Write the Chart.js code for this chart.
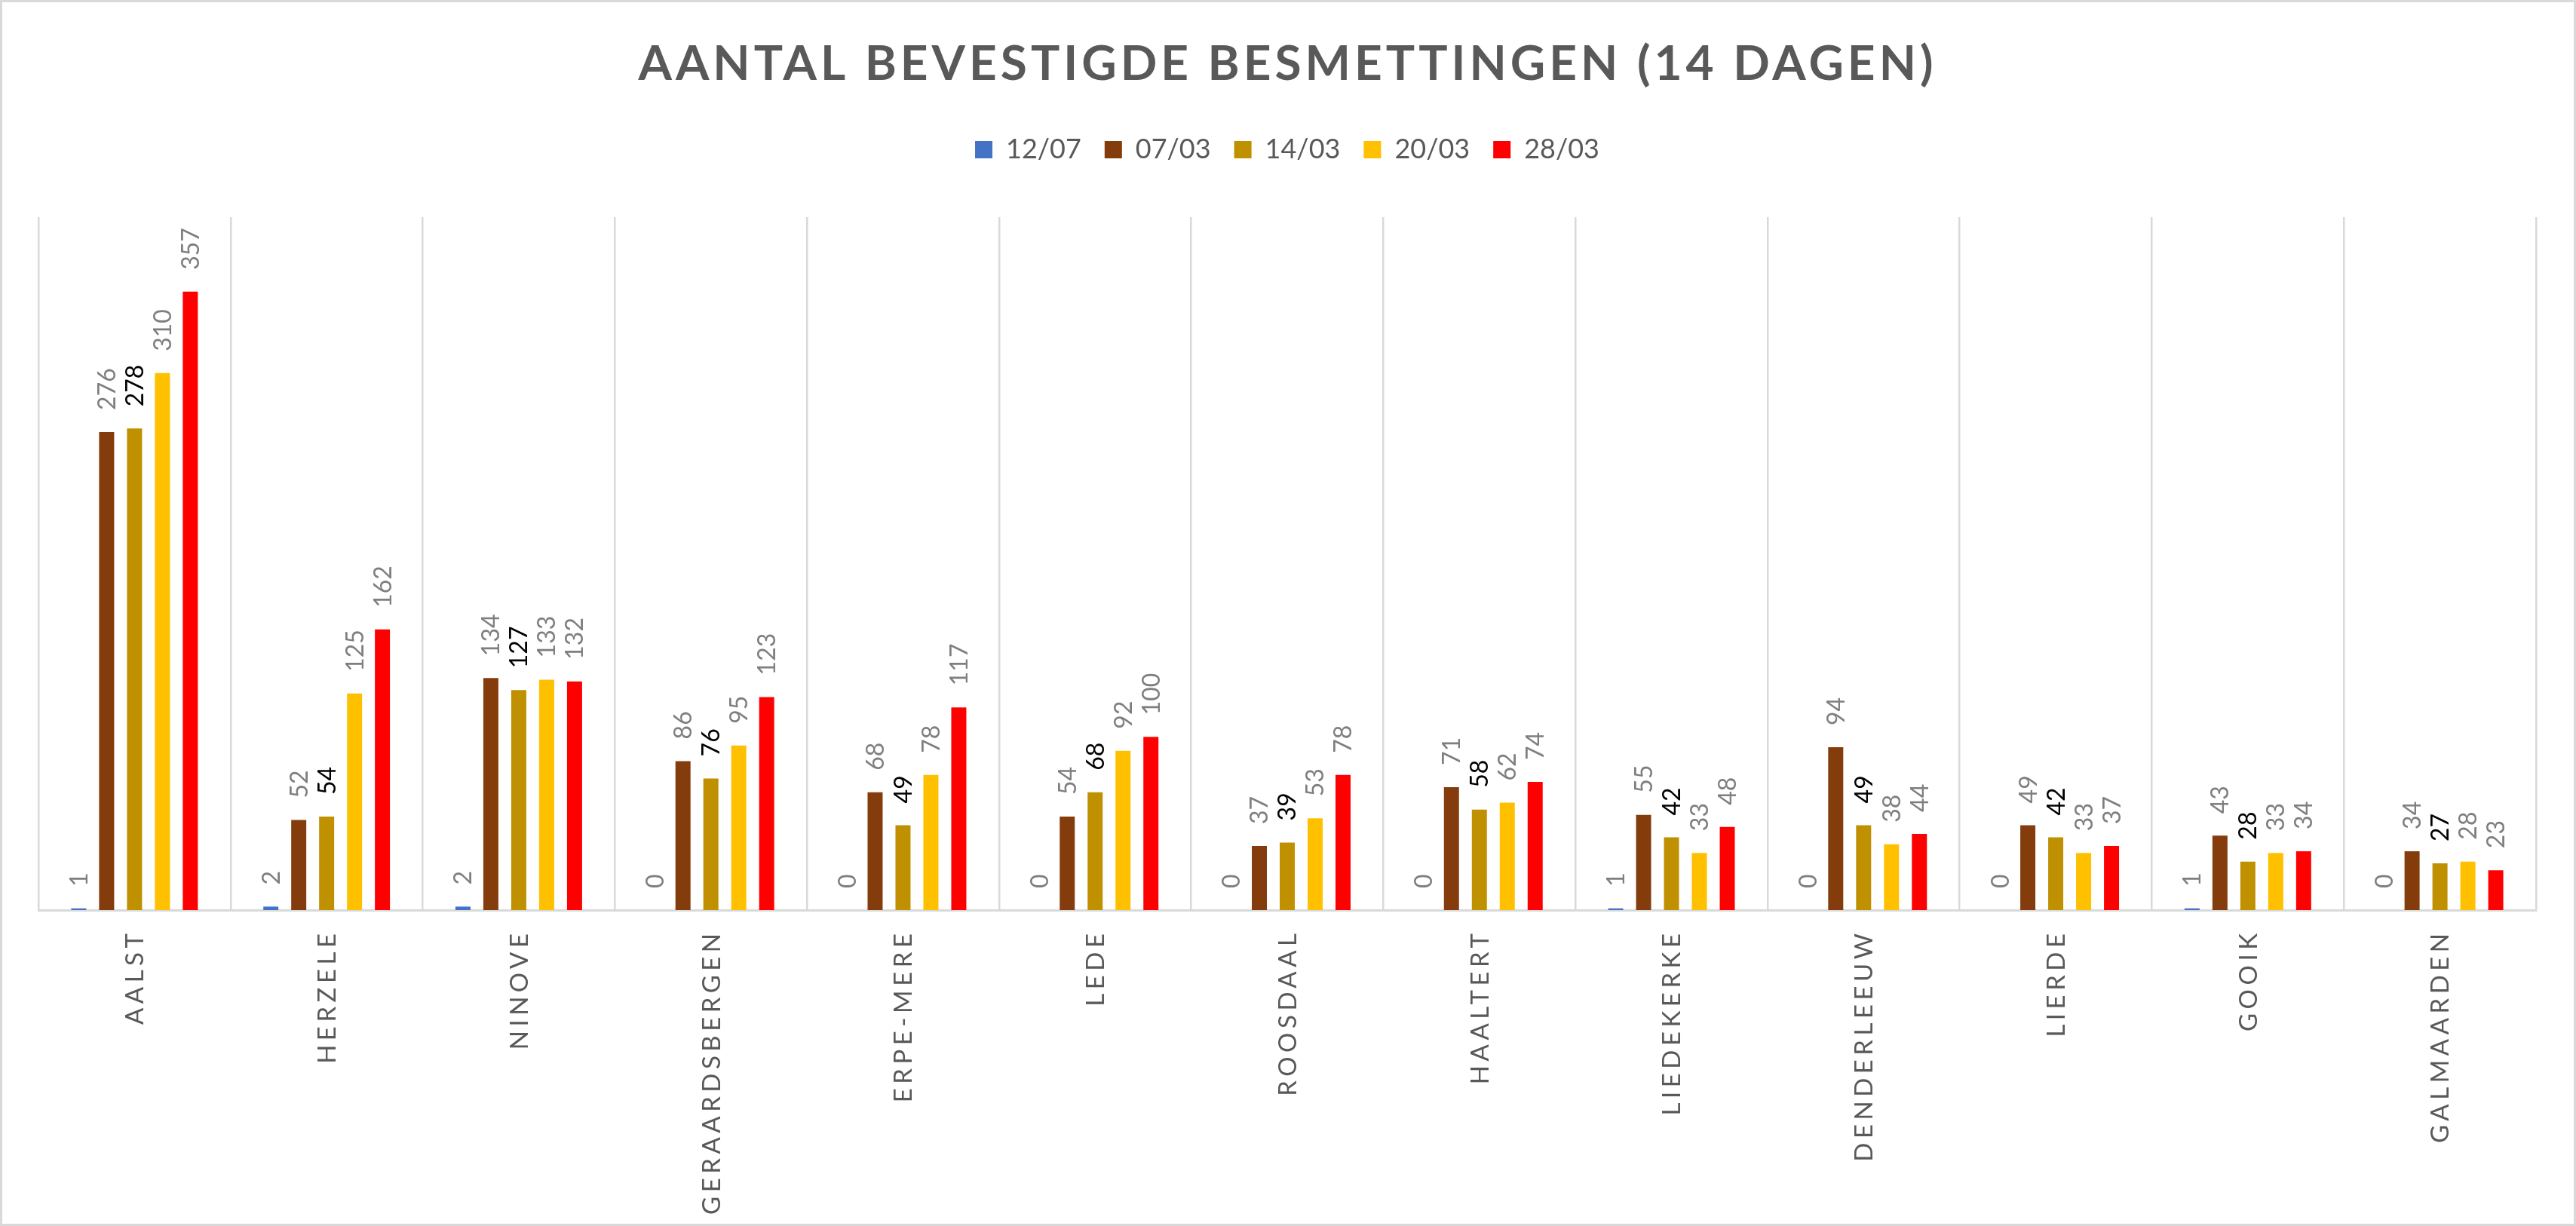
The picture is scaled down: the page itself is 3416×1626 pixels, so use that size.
<!DOCTYPE html>
<html>
<head>
<meta charset="utf-8">
<script src="https://cdn.jsdelivr.net/npm/chart.js@4/dist/chart.umd.min.js"></script>
<style>
html,body{margin:0;padding:0;background:#fff;overflow:hidden}
canvas{display:block}
</style>
</head>
<body>
<canvas id="c" width="3416" height="1626" style="width:3416px;height:1626px"></canvas>
<script>
// ---- data ----
const categories = ['AALST','HERZELE','NINOVE','GERAARDSBERGEN','ERPE-MERE','LEDE','ROOSDAAL','HAALTERT','LIEDEKERKE','DENDERLEEUW','LIERDE','GOOIK','GALMAARDEN'];
const seriesNames = ['12/07','07/03','14/03','20/03','28/03'];
const values1207 = [1, 2, 2, 0, 0, 0, 0, 0, 1, 0, 0, 1, 0];
const values0703 = [276, 52, 134, 86, 68, 54, 37, 71, 55, 94, 49, 43, 34];
const values1403 = [278, 54, 127, 76, 49, 68, 39, 58, 42, 49, 42, 28, 27];
const values2003 = [310, 125, 133, 95, 78, 92, 53, 62, 33, 38, 33, 33, 28];
const values2803 = [357, 162, 132, 123, 117, 100, 78, 74, 48, 44, 37, 34, 23];
const titleText = 'AANTAL BEVESTIGDE BESMETTINGEN (14 DAGEN)';

// ---- styles ----
const seriesColors = ['#4472C4', '#843C0C', '#BF9000', '#FFC000', '#FF0000'];
const labelColors = ['#7F7F7F', '#7F7F7F', '#000000', '#7F7F7F', '#7F7F7F'];
const seriesValues = [values1207, values0703, values1403, values2003, values2803];
const FONT = 'Lato, "Open Sans", "DejaVu Sans", sans-serif';

Chart.defaults.font.family = FONT;

const framePlugin = {
  id: 'frame',
  beforeDraw(chart) {
    const c = chart.ctx;
    c.save();
    c.fillStyle = '#FFFFFF';
    c.fillRect(0, 0, chart.width, chart.height);
    c.restore();
  },
  afterDraw(chart) {
    const c = chart.ctx;
    c.save();
    c.strokeStyle = '#D9D9D9';
    c.lineWidth = 3;
    c.strokeRect(1.5, 1.5, chart.width - 3, chart.height - 3);
    c.restore();
  }
};

function setSpacing(c, px) {
  if ('letterSpacing' in c) { c.letterSpacing = px + 'px'; return px; }
  return 0;
}

const titlePlugin = {
  id: 'spacedTitle',
  afterDraw(chart) {
    const c = chart.ctx;
    c.save();
    c.font = 'bold 64px ' + FONT;
    c.fillStyle = '#595959';
    c.textAlign = 'left';
    c.textBaseline = 'alphabetic';
    setSpacing(c, 0);
    const w0 = c.measureText(titleText).width;
    const n = titleText.length;
    const targetW = 1717;
    let sp = Math.max(0, (targetW - w0) / (n - 1));
    sp = setSpacing(c, sp);
    const total = w0 + sp * (n - 1);
    c.fillText(titleText, 1705 - total / 2, 106);
    c.restore();
  }
};

const xLabelPlugin = {
  id: 'xLabels',
  afterDraw(chart) {
    const c = chart.ctx;
    const xs = chart.scales.x;
    const size = 33;
    c.save();
    c.font = size + 'px ' + FONT;
    c.fillStyle = '#595959';
    c.textAlign = 'left';
    c.textBaseline = 'alphabetic';
    const sp = setSpacing(c, 5.5);
    categories.forEach((lab, i) => {
      const x = xs.getPixelForValue(i);
      const w = c.measureText(lab).width - sp;
      c.save();
      c.translate(x, chart.chartArea.bottom + 31);
      c.rotate(-Math.PI / 2);
      c.fillText(lab, -w, size * 0.358);
      c.restore();
    });
    c.restore();
  }
};

const valueLabelPlugin = {
  id: 'valueLabels',
  afterDatasetsDraw(chart) {
    const c = chart.ctx;
    const size = 32;
    c.save();
    c.font = size + 'px ' + FONT;
    c.textAlign = 'left';
    c.textBaseline = 'alphabetic';
    setSpacing(c, 0);
    chart.data.datasets.forEach((ds, di) => {
      const meta = chart.getDatasetMeta(di);
      c.fillStyle = labelColors[di];
      meta.data.forEach((el, i) => {
        c.save();
        c.translate(el.x, el.y - 29);
        c.rotate(-Math.PI / 2);
        c.fillText(String(ds.data[i]), 0, size * 0.358);
        c.restore();
      });
    });
    c.restore();
  }
};

const datasets = seriesNames.map((name, k) => ({
  label: name,
  data: seriesValues[k],
  backgroundColor: seriesColors[k],
  borderWidth: 0,
  categoryPercentage: 0.726,
  barPercentage: 0.54
}));

new Chart(document.getElementById('c'), {
  type: 'bar',
  data: { labels: categories, datasets },
  options: {
    responsive: false,
    animation: false,
    devicePixelRatio: 1,
    layout: { padding: { top: 149.5, left: 51, right: 53, bottom: 0 } },
    scales: {
      x: {
        offset: true,
        grid: { color: '#D9D9D9', lineWidth: 2.5, drawTicks: false, offset: true },
        border: { color: '#D9D9D9', width: 3 },
        ticks: { display: false },
        afterFit(s) { s.height = 419; }
      },
      y: { display: false, min: 0, max: 400 }
    },
    plugins: {
      tooltip: { enabled: false },
      title: { display: false },
      subtitle: {
        display: true, text: '', position: 'top', weight: 500,
        font: { size: 10, lineHeight: 1 },
        padding: { top: 0, bottom: 51.5 }
      },
      legend: {
        display: true,
        position: 'top',
        align: 'center',
        labels: {
          boxWidth: 23, boxHeight: 23, padding: 31,
          color: '#595959',
          font: { family: FONT, size: 36 }
        }
      }
    }
  },
  plugins: [framePlugin, titlePlugin, xLabelPlugin, valueLabelPlugin]
});
</script>
</body>
</html>
